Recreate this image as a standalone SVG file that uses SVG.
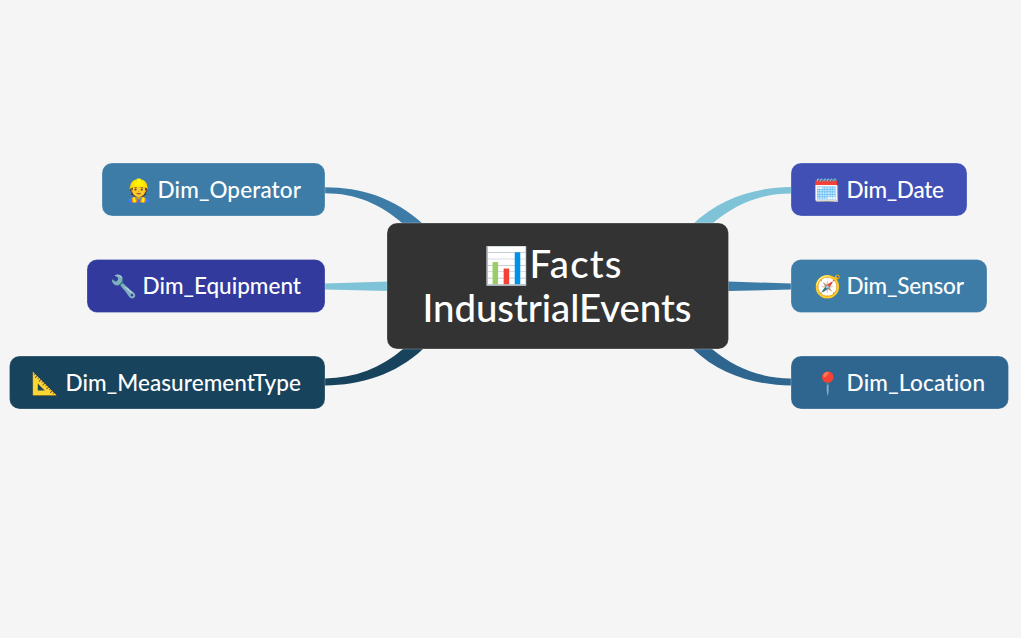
<svg xmlns="http://www.w3.org/2000/svg" width="1021" height="638" viewBox="0 0 1021 638">
<style>
.n{stroke:#fff;stroke-opacity:.25;stroke-width:1}
text{font-family:"Lato","Noto Sans","Noto Color Emoji",sans-serif;fill:#fff;font-weight:500;font-variant-ligatures:none}
.l{font-size:22.5px}
.e{font-size:22px}
.c{font-size:38.4px}
</style>
<rect width="1021" height="638" fill="#f5f5f5"/>
<g id="connectors">
<path fill="#3d7ca6" d="M325,187.300C361,187.300 395,198 423,224L403,224C381,204 355,193.300 325,193.300Z"/>
<path fill="#7fc3d8" d="M325,283.500L388,281.500V291L325,289.500Z"/>
<path fill="#17435c" d="M325,378.500C355,378 381,368 403,349L423,349C395,375 361,385 325,385.500Z"/>
<path fill="#7fc3d8" d="M791,187C755,187.500 720,198 693,224L712,224C735,204 760,193.500 791,193.500Z"/>
<path fill="#3d7ca6" d="M728,281.500L791,283.500V289.500L728,291Z"/>
<path fill="#2f6690" d="M791,378.500C760,378 735,368 712,349L693,349C720,375 755,385 791,385.500Z"/>
</g>
<g id="center"><rect class="n" x="387" y="223" width="341.500" height="126" rx="10" fill="#333"/>
<text class="c" y="278"><tspan x="484" font-size="36">📊</tspan><tspan x="529.500" textLength="92">Facts</tspan></text><text class="c" x="422.500" y="322" textLength="269">IndustrialEvents</text></g>
<g id="dim-operator"><rect class="n" x="102" y="163" width="223" height="53" rx="10" fill="#3d7ca6"/><text class="l" y="197.500"><tspan class="e" x="125.500">👷 </tspan><tspan x="157.500" textLength="143.500">Dim_Operator</tspan></text></g>
<g id="dim-equipment"><rect class="n" x="87" y="259.500" width="238" height="53" rx="10" fill="#323a9e"/><text class="l" y="293.500"><tspan class="e" x="110">🔧 </tspan><tspan x="142.500" textLength="158.500">Dim_Equipment</tspan></text></g>
<g id="dim-measurementtype"><rect class="n" x="9.500" y="356" width="315.500" height="53" rx="10" fill="#17435c"/><text class="l" y="390.500"><tspan class="e" x="31.500">📐 </tspan><tspan x="65.500" textLength="235.500">Dim_MeasurementType</tspan></text></g>
<g id="dim-date"><rect class="n" x="791" y="163" width="176" height="53" rx="10" fill="#4150b5"/><text class="l" y="197.500"><tspan class="e" x="813">🗓️ </tspan><tspan x="846.500" textLength="97.500">Dim_Date</tspan></text></g>
<g id="dim-sensor"><rect class="n" x="791" y="259.500" width="196" height="53" rx="10" fill="#3d7ca6"/><text class="l" y="293.500"><tspan class="e" x="814">🧭 </tspan><tspan x="846.500" textLength="117.500">Dim_Sensor</tspan></text></g>
<g id="dim-location"><rect class="n" x="791" y="356" width="217.500" height="53" rx="10" fill="#2f6690"/><text class="l" y="390.500"><tspan class="e" x="814">📍 </tspan><tspan x="846.500" textLength="138.500">Dim_Location</tspan></text></g>
</svg>
